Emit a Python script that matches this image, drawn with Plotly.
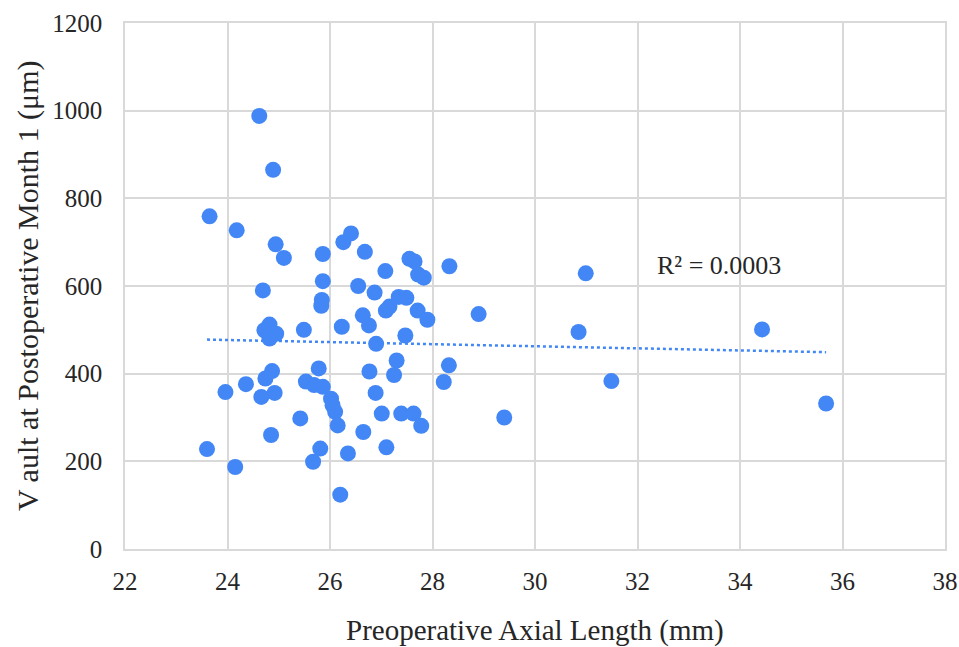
import numpy as np
import plotly.graph_objects as go

axial_length = [
    24.62, 24.89, 23.65, 24.18, 24.94, 25.10, 25.86, 26.41, 26.26, 24.69,
    25.86, 25.84, 25.83, 26.68, 27.08, 27.55, 27.65, 27.72, 27.83, 28.33,
    26.55, 26.87, 27.34, 27.49, 27.09, 27.16, 27.71, 27.90, 26.64, 26.76,
    26.23, 25.49, 26.90, 27.47, 28.90, 24.82, 24.72, 24.95, 24.82, 27.30,
    27.25, 26.77, 28.32, 28.22, 25.78, 25.53, 25.69, 25.86, 26.02, 26.05,
    26.10, 26.15, 26.89, 27.01, 27.39, 27.63, 27.78, 26.65, 27.10, 26.35,
    25.81, 25.67, 26.20, 25.42, 24.87, 24.74, 24.36, 23.96, 24.66, 24.92,
    24.85, 23.60, 24.15, 30.85, 30.99, 31.49, 29.40, 34.43, 35.68,
]
vault = [
    988, 865, 759, 727, 695, 664, 673, 720, 700, 590,
    611, 568, 555, 678, 634, 662, 656, 626, 619, 645,
    600, 585, 575, 573, 544, 553, 544, 523, 533, 510,
    507, 500, 468, 487, 536, 512, 499, 491, 480, 430,
    397, 405, 419, 381, 412, 382, 374, 370, 343, 328,
    313, 282, 356, 309, 309, 309, 281, 267, 232, 218,
    229, 199, 124, 298, 406, 389, 376, 358, 347, 356,
    260, 228, 187, 495, 629, 383, 300, 501, 332,
]
x_ticks = [22, 24, 26, 28, 30, 32, 34, 36, 38]
y_ticks = [0, 200, 400, 600, 800, 1000, 1200]
r2_label = "R² = 0.0003"
x_title = "Preoperative Axial Length (mm)"
y_title = "V ault at Postoperative Month 1 (μm)"

BLUE = "#4287f5"
FONT = "Liberation Serif"
TXT = "#262626"
GRID = "#d9d9d9"

xa = np.array(axial_length)
ya = np.array(vault)
slope, intercept = np.polyfit(xa, ya, 1)
trend_x = [xa.min(), xa.max()]
trend_y = [slope * v + intercept for v in trend_x]

fig = go.Figure()
fig.add_trace(go.Scatter(
    x=trend_x, y=trend_y, mode="lines",
    line=dict(color=BLUE, width=2.5, dash="dot"),
    hoverinfo="skip", showlegend=False,
))
fig.add_trace(go.Scatter(
    x=axial_length, y=vault, mode="markers",
    marker=dict(color=BLUE, size=16, line=dict(width=0)),
    showlegend=False,
))

fig.update_layout(
    width=959, height=647,
    margin=dict(l=125, r=14, t=23, b=98),
    paper_bgcolor="white", plot_bgcolor="white",
    font=dict(family=FONT, color=TXT, size=25),
    xaxis=dict(
        range=[22, 38], tickvals=x_ticks, ticktext=[str(v) for v in x_ticks],
        showgrid=True, gridcolor=GRID, gridwidth=1.5,
        showline=True, linecolor=GRID, linewidth=1.5, mirror=True,
        zeroline=False, ticks="", ticklabelstandoff=9,
        ticklabeloverflow="allow", automargin=False,
        tickfont=dict(family=FONT, size=25, color=TXT),
    ),
    yaxis=dict(
        range=[0, 1200], tickvals=y_ticks, ticktext=[str(v) for v in y_ticks],
        showgrid=True, gridcolor=GRID, gridwidth=1.5,
        showline=True, linecolor=GRID, linewidth=1.5, mirror=True,
        zeroline=False, ticks="", ticklabelstandoff=16, automargin=False,
        tickfont=dict(family=FONT, size=25, color=TXT),
    ),
    annotations=[
        dict(text=r2_label, x=33.59, y=647, xref="x", yref="y",
             showarrow=False, xanchor="center", yanchor="middle",
             font=dict(family=FONT, size=26, color=TXT)),
        dict(text=x_title, x=0.5, y=0, xref="paper", yref="paper",
             showarrow=False, xanchor="center", yanchor="middle", yshift=-81,
             font=dict(family=FONT, size=29, color=TXT)),
        dict(text=y_title, x=0, y=0.5, xref="paper", yref="paper",
             showarrow=False, xanchor="center", yanchor="middle", xshift=-97,
             textangle=-90, font=dict(family=FONT, size=30, color=TXT)),
    ],
)

fig.write_html(
    "out.html",
    config={"displayModeBar": False},
    post_script="document.body.style.margin='0';document.body.style.overflow='hidden';",
)
